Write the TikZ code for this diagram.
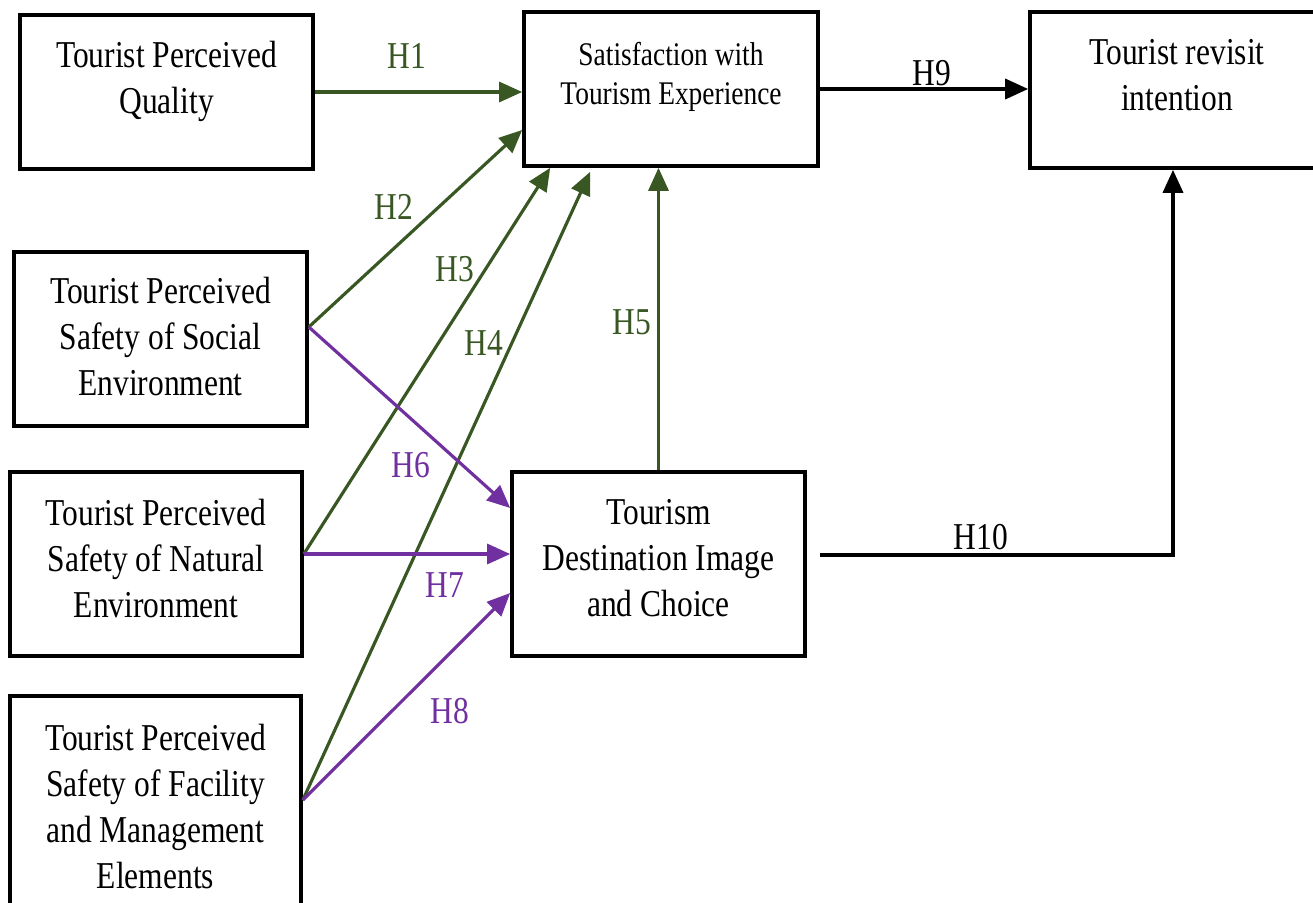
\documentclass[tikz,border=0pt]{standalone}
\usepackage{fontspec}
\setmainfont{Liberation Serif}
\newfontfamily\figfont[FakeStretch=0.83]{Liberation Serif}
\usepackage{tikz}
\usetikzlibrary{arrows.meta,calc,positioning}
\definecolor{hypgreen}{HTML}{385723}
\definecolor{hyppurple}{HTML}{7030A0}

\begin{document}
\begin{tikzpicture}[x=0.02cm,y=-0.02cm,
 >={Triangle[length=0.46cm,width=0.4cm]},
 box/.style={draw,line width=2.1pt,inner sep=0pt,minimum width=5.86cm},
 txt/.style={anchor=north,align=center,inner sep=0pt,
 font=\figfont\fontsize{21.6pt}{26.1pt}\selectfont},
 smalltxt/.style={txt,font=\figfont\fontsize{18.8pt}{22.1pt}\selectfont},
 lab/.style={inner sep=0pt,font=\figfont\fontsize{21.6pt}{26pt}\selectfont},
 green/.style={->,hypgreen,line width=1.8pt},
 purple/.style={->,hyppurple,line width=1.8pt},
 blk/.style={->,black,line width=2pt}]
\useasboundingbox (0,0) rectangle (1313,903);
% boxes
\node[box,minimum height=3.08cm] (tpq) at (166.5,92) {};
\node[txt] (tpqT) at (166.5,41) {Tourist Perceived\\Quality};
\node[box,minimum width=5.88cm,minimum height=3.08cm] (sat) at (671,89) {};
\node[smalltxt] (satT) at (671,42) {Satisfaction with\\Tourism Experience};
\node[box,minimum width=5.88cm,minimum height=3.12cm] (rev) at (1177,90) {};
\node[txt] (revT) at (1177,39) {Tourist revisit\\intention};
\node[box,minimum height=3.48cm] (soc) at (160.5,339) {};
\node[txt] (socT) at (160.5,277) {Tourist Perceived\\Safety of Social\\Environment};
\node[box,minimum width=5.84cm,minimum height=3.68cm] (nat) at (156,564) {};
\node[txt] (natT) at (156,499) {Tourist Perceived\\Safety of Natural\\Environment};
\node[box,minimum width=5.82cm,minimum height=4.48cm] (fac) at (155.5,808) {};
\node[txt] (facT) at (155.5,724) {Tourist Perceived\\Safety of Facility\\and Management\\Elements};
\node[box,minimum height=3.68cm] (dest) at (658.5,564) {};
\node[txt] (destT) at (658.5,499) {Tourism\\Destination Image\\and Choice};
% connector ends
\coordinate (socO) at ($(soc.east)+(0,-12)$);
\coordinate (natO) at ($(nat.east)+(0,-10)$);
\coordinate (facO) at ($(fac.east)+(0,-8)$);
\coordinate (satW) at ($(sat.west)+(0,41)$);
\coordinate (satS3) at ($(sat.south west)+(28,0)$);
\coordinate (satS4) at ($(sat.south west)+(68,4)$);
\coordinate (destW6) at ($(dest.west)+(0,-56)$);
\coordinate (destW8) at ($(dest.west)+(0,29)$);
\coordinate (destE) at ($(dest.east)+(13,-9)$);
\coordinate (revS) at ($(rev.south)+(-4,0)$);
% hypotheses
\draw[green] (tpq.east) -- (tpq.east -| sat.west);
\draw[green] (socO) -- (satW);
\draw[green] (natO) -- (satS3);
\draw[green] (facO) -- (satS4);
\draw[green] (dest.north) -- (dest.north |- sat.south);
\draw[purple] (socO) -- (destW6);
\draw[purple] (natO) -- (natO -| dest.west);
\draw[purple] (facO) -- (destW8);
\draw[blk] (sat.east) -- (sat.east -| rev.west);
\draw[blk] (destE) -| (revS);
% labels
\node[lab,hypgreen] (h1) at (407,56) {H1};
\node[lab,hypgreen] (h2) at (394,207) {H2};
\node[lab,hypgreen] (h3) at (455,269) {H3};
\node[lab,hypgreen] (h4) at (484,343) {H4};
\node[lab,hypgreen] (h5) at (632,322) {H5};
\node[lab,hyppurple] (h6) at (411,465) {H6};
\node[lab,hyppurple] (h7) at (445,585) {H7};
\node[lab,hyppurple] (h8) at (450,711) {H8};
\node[lab] (h9) at (932,73) {H9};
\node[lab] (h10) at (981,537) {H10};
\end{tikzpicture}
\end{document}
